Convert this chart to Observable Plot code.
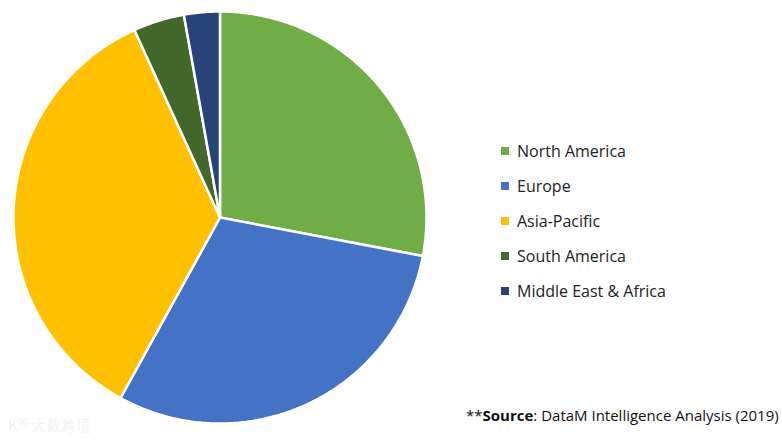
<!DOCTYPE html>
<html><head><meta charset="utf-8">
<script src="https://cdn.jsdelivr.net/npm/d3@7"></script>
<script src="https://cdn.jsdelivr.net/npm/@observablehq/plot@0.6"></script>
<style>
body{margin:0;background:#fff;font-family:"Open Sans","Liberation Sans",sans-serif;}
#wrap{position:relative;width:782px;height:443px;overflow:hidden;}
#legend{position:absolute;left:501px;top:133px;font-size:16px;color:#222;}
.item{display:flex;align-items:center;height:35px;}
.sw{width:8px;height:8px;margin-right:8px;}
#source{position:absolute;left:466px;top:405px;font-size:15px;color:#111;}
#wm{position:absolute;left:8px;top:414px;font-size:15px;color:#f3f3f3;font-family:"Noto Sans CJK SC";}
</style></head>
<body><div id="wrap"><div id="chart"></div><div id="legend"></div>
<div id="source">**<b>Source</b>: DataM Intelligence Analysis (2019)</div>
<div id="wm">K⁰⁰ 大数跨境</div></div>
<script>
const regions = ["North America","Europe","Asia-Pacific","South America","Middle East & Africa"];
const shares = [28, 30, 35.2, 4, 2.8];
const colors = ["#70AD47","#4472C4","#FFC000","#43682B","#264478"];

const total = d3.sum(shares);
const pts = [];
let cum = 0;
regions.forEach((r,i)=>{
  const a0 = cum/total*2*Math.PI, a1 = (cum+shares[i])/total*2*Math.PI;
  pts.push({region:r,x:0,y:0});
  const n = Math.max(4, Math.ceil((a1-a0)/0.01));
  for(let k=0;k<=n;k++){const a=a0+(a1-a0)*k/n; pts.push({region:r,x:Math.sin(a),y:Math.cos(a)});}
  pts.push({region:r,x:0,y:0});
  cum += shares[i];
});

const plot = Plot.plot({
  width:782, height:443,
  marginLeft:13, marginRight:356, marginTop:11, marginBottom:20,
  x:{domain:[-1,1],axis:null},
  y:{domain:[-1,1],axis:null},
  color:{domain:regions,range:colors},
  marks:[
    Plot.line(pts,{x:"x",y:"y",z:"region",fill:"region",stroke:"white",strokeWidth:2.5,strokeLinejoin:"miter",curve:"linear"})
  ]
});
document.getElementById("chart").appendChild(plot);
const lg = document.getElementById("legend");
regions.forEach((r,i)=>{
  const d=document.createElement("div");d.className="item";
  d.innerHTML=`<span class="sw" style="background:${colors[i]}"></span><span>${r}</span>`;
  lg.appendChild(d);
});
</script></body></html>
